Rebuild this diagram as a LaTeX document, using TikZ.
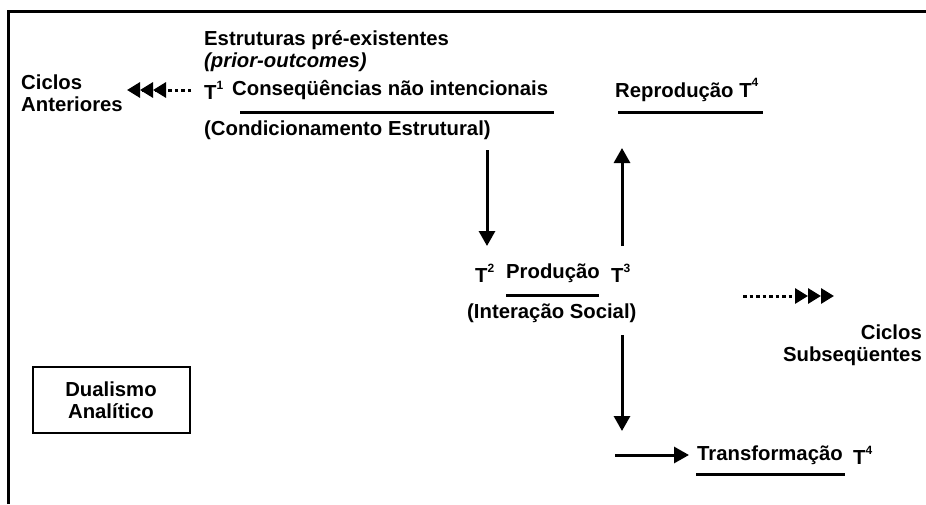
\documentclass[tikz,border=0pt]{standalone}
\usepackage{fontspec}
\setmainfont{Liberation Sans}
\usetikzlibrary{arrows.meta}
\newcommand{\tsup}[1]{\raisebox{0.5em}{\fontsize{12}{12}\selectfont #1}}
\begin{document}
\begin{tikzpicture}[x=1pt,y=-1pt,
  txt/.style={inner sep=0pt,anchor=west,font=\fontsize{20.3}{22.5}\selectfont\bfseries},
  uline/.style={line width=3pt},
  arr/.style={line width=3pt,-{Triangle[length=15pt,width=16pt]}},
  tri/.style={line width=3pt,dash pattern=on 3.5pt off 3pt,-{Triangle[length=13pt,width=15pt]Triangle[length=13pt,width=15pt]Triangle[length=13pt,width=15pt]}}]
\useasboundingbox (0,0) rectangle (926,504);
% frame
\draw[line width=2.5pt] (8.5,504) -- (8.5,11.5) -- (926,11.5);
% texts
\node[txt] (est) at (204,40) {Estruturas pré-existentes};
\node[txt,font=\fontsize{20.3}{22.5}\selectfont\bfseries\itshape] (prior) at (204,62) {(prior-outcomes)};
\node[txt,align=left] (cant) at (21,93) {Ciclos\\Anteriores};
\node[txt] (t1) at (204,90) {T\tsup{1}};
\node[txt] (cons) at (232,90) {Conseqüências não intencionais};
\node[txt] (cond) at (204,130) {(Condicionamento Estrutural)};
\node[txt] (rep) at (615,90) {Reprodução T\tsup{4}};
\node[txt] (t2) at (475,273) {T\tsup{2}};
\node[txt] (prod) at (506,273) {Produção};
\node[txt] (t3) at (611,273) {T\tsup{3}};
\node[txt] (inter) at (467,313) {(Interação Social)};
\node[txt] (trans) at (697,455) {Transformação};
\node[txt] (t4b) at (853,455) {T\tsup{4}};
\node[txt,anchor=east,align=right] (csub) at (922,345) {Ciclos\\Subseqüentes};
\node[draw,line width=2pt,minimum width=157pt,minimum height=66pt,inner sep=0pt,align=center,font=\fontsize{20.3}{22.5}\selectfont\bfseries] (dual) at (111,400) {Dualismo\\Analítico};
% underlines
\draw[uline] (240,112) -- (554,112);
\draw[uline] (618,112) -- (763,112);
\draw[uline] (506,295) -- (599,295);
\draw[uline] (696,474) -- (845,474);
% arrows
\coordinate (l1) at (191,90);
\coordinate (l2) at (127,90);
\draw[tri] (l1) -- (l2);
\coordinate (r1) at (743,296);
\coordinate (r2) at (834,296);
\draw[tri] (r1) -- (r2);
\coordinate (d1s) at (487,150);
\coordinate (d1e) at (487,246);
\draw[arr] (d1s) -- (d1e);
\coordinate (u1s) at (622,246);
\coordinate (u1e) at (622,148);
\draw[arr] (u1s) -- (u1e);
\coordinate (d2s) at (622,335);
\coordinate (d2e) at (622,431);
\draw[arr] (d2s) -- (d2e);
\coordinate (h1s) at (615,455);
\coordinate (h1e) at (689,455);
\draw[arr] (h1s) -- (h1e);
\end{tikzpicture}
\end{document}
